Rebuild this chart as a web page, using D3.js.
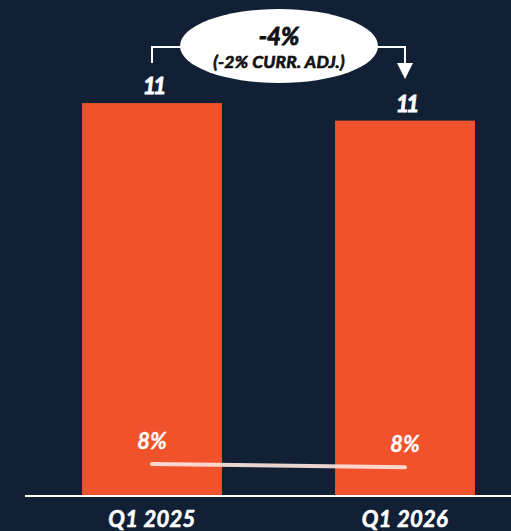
<!DOCTYPE html>
<html>
<head>
<meta charset="utf-8">
<script src="https://cdn.jsdelivr.net/npm/d3@7/dist/d3.min.js"></script>
<style>
  html, body { margin: 0; padding: 0; background: #122036; }
  svg { display: block; }
  text { font-family: Lato, "Open Sans", sans-serif; font-style: italic; }
</style>
</head>
<body>
<script>
// Quarterly figures
const categories = ["Q1 2025", "Q1 2026"];
const values = [11.2, 10.7];          // bar values (billions)
const valueLabels = ["11", "11"];
const margins = [8.4, 8.2];           // line series, percent
const marginLabels = ["8%", "8%"];
const changeMain = "-4%";
const changeSub = "(-2% CURR. ADJ.)";

const W = 511, H = 531;
const svg = d3.select("body").append("svg").attr("width", W).attr("height", H);

const baseY = 496;
const x = d3.scaleBand().domain(categories).range([25, 532])
  .paddingInner(0.447).paddingOuter(0.2256);
const y = d3.scaleLinear().domain([0, 12]).range([baseY, 75]);
const y2 = d3.scaleLinear().domain([6.5, 10]).range([baseY, 437]);
const cx = d => x(d) + x.bandwidth() / 2;

// Bars
svg.selectAll("rect.bar").data(categories).join("rect")
  .attr("class", "bar")
  .attr("x", d => x(d))
  .attr("width", x.bandwidth())
  .attr("y", (d, i) => y(values[i]))
  .attr("height", (d, i) => baseY - y(values[i]))
  .attr("fill", "#f0532c");

// Bar value labels
svg.selectAll("text.val").data(categories).join("text")
  .attr("class", "val")
  .attr("x", d => cx(d) + 1)
  .attr("y", (d, i) => y(values[i]) - 9)
  .attr("text-anchor", "middle")
  .attr("fill", "#fff")
  .attr("stroke", "#fff").attr("stroke-width", 0.8)
  .attr("font-weight", 700)
  .attr("font-size", 23)
  .style("letter-spacing", "-3px")
  .text((d, i) => valueLabels[i]);

// Baseline axis
const axis = svg.append("g").attr("transform", `translate(0,${baseY})`)
  .call(d3.axisBottom(x).tickSize(0).tickPadding(15));
axis.select(".domain").attr("d", `M25,0H${W}`).attr("stroke", "#fff").attr("stroke-width", 2);
axis.selectAll(".tick text")
  .attr("fill", "#fff")
  .attr("stroke", "#fff").attr("stroke-width", 0.6)
  .attr("font-size", 22)
  .attr("font-weight", 700)
  .style("font-family", "Lato, sans-serif")
  .style("font-style", "italic")
  .style("letter-spacing", "0.3px");

// Margin line
const line = d3.line().x((d, i) => cx(categories[i])).y(d => y2(d));
svg.append("path").datum(margins)
  .attr("d", line)
  .attr("fill", "none")
  .attr("stroke", "#fde4dd")
  .attr("stroke-opacity", 0.92)
  .attr("stroke-width", 4)
  .attr("stroke-linecap", "round");

svg.selectAll("text.pct").data(categories).join("text")
  .attr("class", "pct")
  .attr("x", d => cx(d))
  .attr("y", (d, i) => y2(margins[i]) - 15)
  .attr("text-anchor", "middle")
  .attr("fill", "#fff")
  .attr("stroke", "#fff").attr("stroke-width", 0.3)
  .attr("font-weight", 700)
  .attr("font-size", 22)
  .text((d, i) => marginLabels[i]);

// Change bracket with arrow
const bx1 = cx(categories[0]), bx2 = cx(categories[1]);
const by = 47;
svg.append("path")
  .attr("d", `M${bx1},63V${by}H${bx2}V66`)
  .attr("fill", "none").attr("stroke", "#fff").attr("stroke-width", 2);
svg.append("path")
  .attr("d", `M${bx2 - 8},63L${bx2 + 8},63L${bx2},79Z`)
  .attr("fill", "#fff");

// Change bubble
const ex = (bx1 + bx2) / 2 + 0.5;
svg.append("ellipse")
  .attr("cx", ex).attr("cy", 46).attr("rx", 99).attr("ry", 37)
  .attr("fill", "#fff");
svg.append("text")
  .attr("x", ex).attr("y", 45)
  .attr("text-anchor", "middle")
  .attr("fill", "#111")
  .attr("stroke", "#111").attr("stroke-width", 0.9)
  .attr("font-weight", 700)
  .attr("font-size", 24)
  .text(changeMain);
svg.append("text")
  .attr("x", ex).attr("y", 68)
  .attr("text-anchor", "middle")
  .attr("fill", "#111")
  .attr("stroke", "#111").attr("stroke-width", 0.7)
  .attr("font-weight", 700)
  .attr("font-size", 17.5)
  .style("letter-spacing", "0.2px")
  .text(changeSub);
</script>
</body>
</html>
